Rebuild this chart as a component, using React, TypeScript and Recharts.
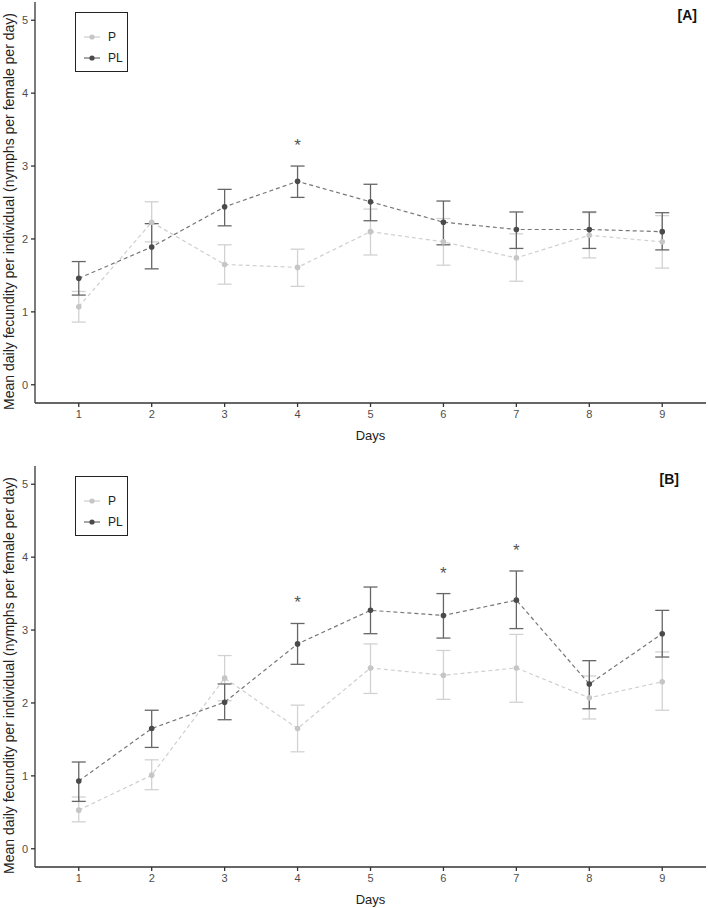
import React from 'react';
import { ComposedChart, Line, ErrorBar, XAxis, YAxis, Legend } from 'recharts';

// x categories
const days = [1, 2, 3, 4, 5, 6, 7, 8, 9];
const yTicks = [0, 1, 2, 3, 4, 5];

// panel A
const pMeanA = [1.07, 2.23, 1.65, 1.61, 2.10, 1.96, 1.74, 2.05, 1.96];
const pLowA = [0.86, 1.96, 1.38, 1.35, 1.78, 1.64, 1.42, 1.74, 1.60];
const pHighA = [1.28, 2.51, 1.92, 1.86, 2.41, 2.28, 2.07, 2.36, 2.32];
const plMeanA = [1.46, 1.89, 2.44, 2.79, 2.51, 2.23, 2.13, 2.13, 2.10];
const plLowA = [1.23, 1.59, 2.18, 2.57, 2.25, 1.92, 1.87, 1.87, 1.85];
const plHighA = [1.69, 2.21, 2.68, 3.00, 2.75, 2.52, 2.37, 2.37, 2.36];
const sigDaysA = [4];

// panel B
const pMeanB = [0.53, 1.01, 2.34, 1.65, 2.48, 2.38, 2.48, 2.07, 2.29];
const pLowB = [0.37, 0.81, 2.03, 1.33, 2.13, 2.05, 2.01, 1.78, 1.90];
const pHighB = [0.71, 1.22, 2.65, 1.97, 2.81, 2.72, 2.94, 2.37, 2.70];
const plMeanB = [0.93, 1.65, 2.01, 2.81, 3.27, 3.20, 3.41, 2.26, 2.95];
const plLowB = [0.65, 1.39, 1.77, 2.53, 2.95, 2.89, 3.02, 1.92, 2.63];
const plHighB = [1.19, 1.90, 2.26, 3.09, 3.59, 3.50, 3.81, 2.58, 3.27];
const sigDaysB = [4, 6, 7];

const FONT = '"Liberation Sans", Arial, sans-serif';
const NARROW = '"Liberation Sans Narrow", "Liberation Sans", Arial, sans-serif';
const P_DOT = '#c6c6c6';
const P_BAR = '#d2d2d2';
const P_LINE = '#cfcfcf';
const PL_DOT = '#4a4a4a';
const PL_BAR = '#666666';
const PL_LINE = '#777777';
const AXIS = '#333333';

const buildRows = (
  pMean: number[], pLow: number[], pHigh: number[],
  plMean: number[], plLow: number[], plHigh: number[], sig: number[]
) =>
  days.map((d, i) => ({
    day: d,
    p: pMean[i],
    pErr: [pMean[i] - pLow[i], pHigh[i] - pMean[i]],
    pl: plMean[i],
    plErr: [plMean[i] - plLow[i], plHigh[i] - plMean[i]],
    star: sig.includes(d) ? plHigh[i] : null,
  }));

const rowsA = buildRows(pMeanA, pLowA, pHighA, plMeanA, plLowA, plHighA, sigDaysA);
const rowsB = buildRows(pMeanB, pLowB, pHighB, plMeanB, plLowB, plHighB, sigDaysB);

// significance marker drawn above the PL upper error
const StarDot = (props: any) => {
  const { cx, cy, value, index } = props;
  if (value == null || cy == null) return <g key={`s-${index}`} />;
  return (
    <text key={`s-${index}`} x={cx} y={cy - 15} textAnchor="middle" fontSize={17}
      fontFamily={FONT} fill="#555">*</text>
  );
};

const YTitle = (props: any) => {
  const { viewBox } = props;
  const cy = viewBox.y + viewBox.height / 2 + 9;
  return (
    <text x={9} y={cy} transform={`rotate(-90, 9, ${cy})`} textAnchor="middle"
      dominantBaseline="central" fontSize={14} fontFamily={FONT} fill="#222">
      Mean daily fecundity per individual (nymphs per female per day)
    </text>
  );
};

const XTitle = (props: any) => {
  const { viewBox } = props;
  const cx = viewBox.x + viewBox.width / 2;
  return (
    <text x={cx} y={viewBox.y + 32} textAnchor="middle" dominantBaseline="central"
      fontSize={13} fontFamily={FONT} fill="#222">Days</text>
  );
};

const LegendBox = () => (
  <div style={{ width: 53, height: 60, border: '1px solid #222', background: '#fff',
    fontFamily: FONT, fontSize: 12, color: '#222', boxSizing: 'border-box' }}>
    {[{ name: 'P', c: P_DOT, l: P_LINE }, { name: 'PL', c: PL_DOT, l: PL_LINE }].map((e, i) => (
      <div key={e.name} style={{ position: 'relative', height: 20, marginTop: i === 0 ? 14 : 1 }}>
        <svg width={20} height={20} style={{ position: 'absolute', left: 6, top: 0 }}>
          <line x1={2} y1={10} x2={18} y2={10} stroke={e.l} strokeWidth={1.3} />
          <circle cx={10} cy={10} r={2.6} fill={e.c} />
        </svg>
        <span style={{ position: 'absolute', left: 32, top: 3 }}>{e.name}</span>
      </div>
    ))}
  </div>
);

const Panel = ({ rows, tag, tagRight }: { rows: any[]; tag: string; tagRight: number }) => (
  <div style={{ position: 'relative', width: 708, height: 450 }}>
    <ComposedChart width={708} height={450} data={rows}
      margin={{ top: 2, right: 2, bottom: 2, left: 0 }}>
      <XAxis dataKey="day" type="number" domain={[0.4, 9.6]} ticks={days}
        allowDataOverflow height={45} tickSize={4} tickMargin={3}
        stroke={AXIS} strokeWidth={1.3}
        tick={{ fontSize: 11, fill: '#4d4d4d', fontFamily: NARROW }}
        label={<XTitle />} />
      <YAxis type="number" domain={[-0.25, 5.25]} ticks={yTicks} allowDataOverflow
        width={35} tickSize={4} tickMargin={3} stroke={AXIS} strokeWidth={1.3}
        tick={{ fontSize: 11, fill: '#4d4d4d', fontFamily: NARROW }}
        label={<YTitle />} />
      <Legend layout="vertical" align="center" verticalAlign="middle"
        wrapperStyle={{ left: 75, top: 12, width: 53 }} content={() => <LegendBox />} />
      <Line dataKey="p" name="P" stroke={P_LINE} strokeWidth={1.2} strokeDasharray="4 3"
        dot={{ r: 2.8, fill: P_DOT, stroke: P_DOT, strokeWidth: 0 }} activeDot={false}
        isAnimationActive={false}>
        <ErrorBar dataKey="pErr" direction="y" width={7} stroke={P_BAR} strokeWidth={1.3}
          isAnimationActive={false} />
      </Line>
      <Line dataKey="pl" name="PL" stroke={PL_LINE} strokeWidth={1.2} strokeDasharray="4 3"
        dot={{ r: 2.8, fill: PL_DOT, stroke: PL_DOT, strokeWidth: 0 }} activeDot={false}
        isAnimationActive={false}>
        <ErrorBar dataKey="plErr" direction="y" width={7} stroke={PL_BAR} strokeWidth={1.3}
          isAnimationActive={false} />
      </Line>
      <Line dataKey="star" stroke="none" dot={StarDot} activeDot={false}
        legendType="none" isAnimationActive={false} />
    </ComposedChart>
    <div style={{ position: 'absolute', right: tagRight, top: 7, fontFamily: FONT, fontWeight: 'bold',
      fontSize: 14, color: '#111' }}>{tag}</div>
  </div>
);

const App: React.FC = () => {
  return (
    <div style={{ position: 'absolute', left: 0, top: 0, width: 708, height: 908, background: '#fff' }}>
      <Panel rows={rowsA} tag="[A]" tagRight={11} />
      <div style={{ position: 'absolute', left: 0, top: 464 }}>
        <Panel rows={rowsB} tag="[B]" tagRight={29} />
      </div>
    </div>
  );
};

export default App;
